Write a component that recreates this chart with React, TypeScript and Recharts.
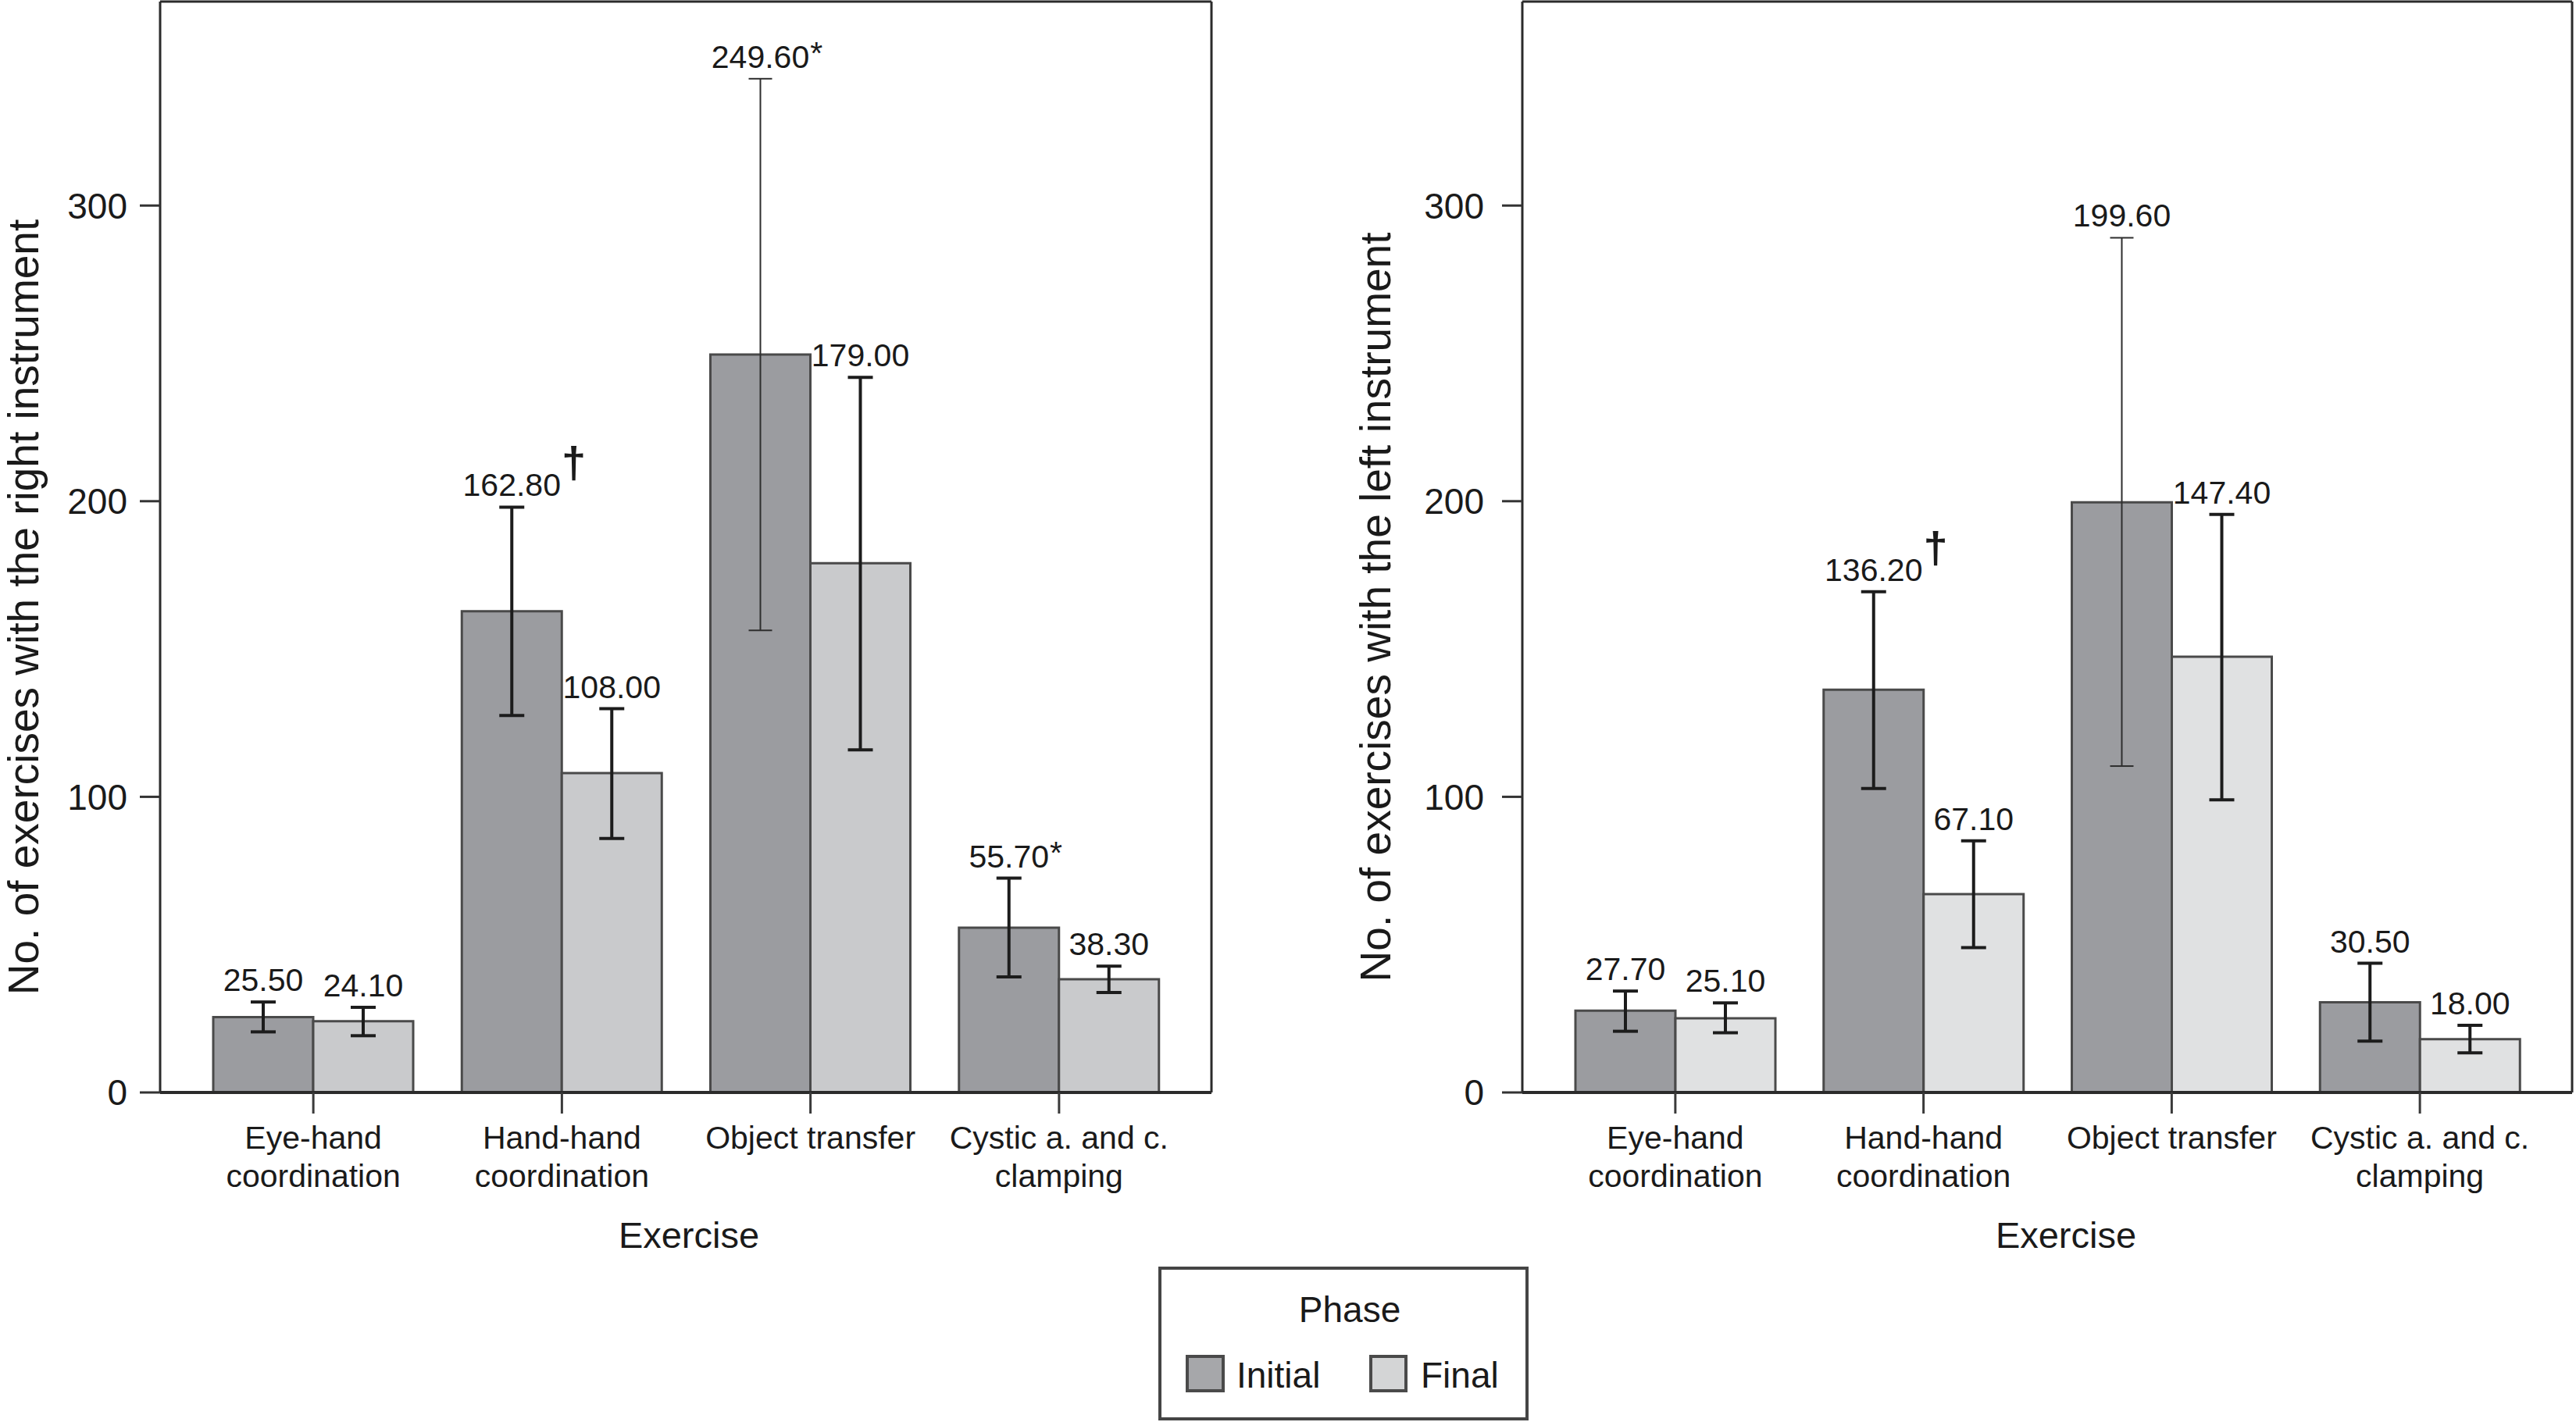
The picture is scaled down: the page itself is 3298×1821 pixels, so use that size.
import React from 'react';
import { BarChart, Bar, XAxis, YAxis, CartesianGrid, ErrorBar, LabelList } from 'recharts';

const FONT = '"Liberation Sans", Arial, Helvetica, sans-serif';
const TEXT = '#1a1a1a';

// ---------- data ----------
const categories = ['Eye-hand coordination', 'Hand-hand coordination', 'Object transfer', 'Cystic a. and c. clamping'];
const categoryTickLines = [
  ['Eye-hand', 'coordination'],
  ['Hand-hand', 'coordination'],
  ['Object transfer'],
  ['Cystic a. and c.', 'clamping'],
];
const yTicks = [0, 100, 200, 300];
const yMax = 369;
const phases = ['Initial', 'Final'];

// Panel A: right instrument
const rightInitial = [25.5, 162.8, 249.6, 55.7];
const rightFinal = [24.1, 108.0, 179.0, 38.3];
const rightInitialLow = [20.5, 127.5, 156.3, 39.1];
const rightInitialHigh = [30.6, 198.0, 342.9, 72.5];
const rightFinalLow = [19.2, 85.9, 115.9, 33.8];
const rightFinalHigh = [28.8, 129.8, 241.9, 42.7];
const rightInitialMarks = ['', '†', '*', '*'];
const rightFinalMarks = ['', '', '', ''];

// Panel B: left instrument
const leftInitial = [27.7, 136.2, 199.6, 30.5];
const leftFinal = [25.1, 67.1, 147.4, 18.0];
const leftInitialLow = [20.7, 102.8, 110.4, 17.4];
const leftInitialHigh = [34.3, 169.4, 289.1, 43.7];
const leftFinalLow = [20.2, 49.0, 99.0, 13.4];
const leftFinalHigh = [30.3, 85.1, 195.5, 22.7];
const leftInitialMarks = ['', '†', '', ''];
const leftFinalMarks = ['', '', '', ''];

// style: which initial error bars are drawn thin
const thinInitialError = [false, false, true, false];

// ---------- helpers ----------
function buildRows(ini: number[], fin: number[], iLow: number[], iHigh: number[], fLow: number[], fHigh: number[]) {
  return categories.map((name, i) => {
    const iErr = [ini[i] - iLow[i], iHigh[i] - ini[i]];
    return {
      name,
      initial: ini[i],
      final: fin[i],
      initialErrThick: thinInitialError[i] ? undefined : iErr,
      initialErrThin: thinInitialError[i] ? iErr : undefined,
      finalErr: [fin[i] - fLow[i], fHigh[i] - fin[i]],
    };
  });
}

const textWidth = (s: string) => s.split('').reduce((a, c) => a + (c === '.' ? 0.278 : 0.556), 0);

function makeValueLabel(values: number[], highs: number[], marks: string[]) {
  return (props: any) => {
    const vb = props.viewBox || {};
    const x = Number(props.x ?? vb.x);
    const y = Number(props.y ?? vb.y);
    const w = Number(props.width ?? vb.width);
    const h = Number(props.height ?? vb.height);
    const idx = typeof props.index === 'number' ? props.index : values.indexOf(Number(props.value));
    if (idx < 0 || !isFinite(x) || !isFinite(y)) return null;
    const value = values[idx];
    const base = y + h;
    const ppu = h / value;
    const errTop = base - highs[idx] * ppu;
    const by = errTop - 14;
    const cx = x + w / 2;
    const txt = value.toFixed(2);
    const tw = textWidth(txt) * 41;
    const mark = marks[idx];
    const isDagger = mark === '†';
    return (
      <g>
        <text x={cx} y={by} textAnchor="middle" fontSize={41} fontFamily={FONT} fill={TEXT}>
          {txt}
        </text>
        {mark ? (
          <text
            x={cx + tw / 2 + (isDagger ? 1 : 1)}
            y={by - (isDagger ? 24 : 5)}
            textAnchor="start"
            fontSize={isDagger ? 56 : 41}
            fontWeight={isDagger ? 'bold' : 'normal'}
            fontFamily={FONT}
            fill={TEXT}
          >
            {mark}
          </text>
        ) : null}
      </g>
    );
  };
}

const XTick = (props: any) => {
  const { x, y, payload } = props;
  const idx = categories.indexOf(payload.value);
  const lines = categoryTickLines[idx] || [String(payload.value)];
  return (
    <text x={x} y={y} textAnchor="middle" fontSize={41} fontFamily={FONT} fill={TEXT}>
      {lines.map((l, i) => (
        <tspan key={i} x={x} dy={i === 0 ? 45 : 49}>
          {l}
        </tspan>
      ))}
    </text>
  );
};

function yTitle(text: string, baselineX: number, dy: number) {
  return (props: any) => {
    const vb = props.viewBox || {};
    const cx = (vb.x || 0) + baselineX;
    const cy = (vb.y || 0) + (vb.height || 0) / 2 + dy;
    return (
      <text
        transform={`translate(${cx},${cy}) rotate(-90)`}
        textAnchor="middle"
        fontSize={55}
        fontFamily={FONT}
        fill={TEXT}
      >
        {text}
      </text>
    );
  };
}

function xTitle(text: string, dx: number) {
  return (props: any) => {
    const vb = props.viewBox || {};
    return (
      <text
        x={vb.x + vb.width / 2 + dx}
        y={vb.y + vb.height}
        textAnchor="middle"
        fontSize={47}
        fontFamily={FONT}
        fill={TEXT}
      >
        {text}
      </text>
    );
  };
}

const gridRows = (props: any) => {
  const yAxis = props && props.yAxis;
  if (!yAxis || typeof yAxis.scale !== 'function') return [];
  return yTicks.filter((t) => t > 0).map((t) => yAxis.scale(t));
};

type PanelProps = {
  left: number;
  width: number;
  yAxisWidth: number;
  tickMargin: number;
  marginRight: number;
  title: string;
  titleX: number;
  xLabelDx: number;
  finalColor: string;
  dash: string;
  ini: number[];
  fin: number[];
  iLow: number[];
  iHigh: number[];
  fLow: number[];
  fHigh: number[];
  iMarks: string[];
  fMarks: string[];
};

function Panel(p: PanelProps) {
  const rows = buildRows(p.ini, p.fin, p.iLow, p.iHigh, p.fLow, p.fHigh);
  const H = 1620;
  return (
    <div style={{ position: 'absolute', left: p.left, top: 0, width: p.width, height: H }}>
      <BarChart
        width={p.width}
        height={H}
        data={rows}
        margin={{ top: 1, right: p.marginRight - 1, left: 0, bottom: H - 1598 }}
        barGap={0}
        barSize={128}
      >
        <CartesianGrid
          vertical={false}
          horizontal
          stroke="#3a3a3a"
          strokeWidth={3}
          strokeDasharray={p.dash}
          horizontalCoordinatesGenerator={gridRows}
        />
        <XAxis
          dataKey="name"
          type="category"
          interval={0}
          padding={{ left: 37, right: 36 }}
          height={199}
          tickSize={27}
          tickMargin={0}
          tick={<XTick />}
          axisLine={{ stroke: '#2b2b2b', strokeWidth: 4 }}
          tickLine={{ stroke: '#3a3a3a', strokeWidth: 3 }}
          label={xTitle('Exercise', p.xLabelDx)}
        />
        <XAxis
          xAxisId="top"
          dataKey="name"
          orientation="top"
          height={1}
          tick={false}
          tickLine={false}
          axisLine={{ stroke: '#2b2b2b', strokeWidth: 3 }}
        />
        <YAxis
          type="number"
          domain={[0, yMax]}
          ticks={yTicks}
          width={p.yAxisWidth}
          tickSize={26}
          tickMargin={p.tickMargin}
          tick={{ fontSize: 46, fill: TEXT, fontFamily: FONT }}
          axisLine={{ stroke: '#2b2b2b', strokeWidth: 3 }}
          tickLine={{ stroke: '#333', strokeWidth: 3 }}
          label={yTitle(p.title, p.titleX, 77)}
        />
        <YAxis
          yAxisId="right"
          orientation="right"
          type="number"
          domain={[0, yMax]}
          width={1}
          tick={false}
          tickLine={false}
          axisLine={{ stroke: '#2b2b2b', strokeWidth: 3 }}
        />
        <Bar dataKey="initial" name={phases[0]} fill="#9b9ca0" stroke="#4a4a4a" strokeWidth={3} isAnimationActive={false}>
          <ErrorBar dataKey="initialErrThick" width={16} stroke="#1c1c1c" strokeWidth={4} />
          <ErrorBar dataKey="initialErrThin" width={15} stroke="#2e2e2e" strokeWidth={2} />
          <LabelList dataKey="initial" content={makeValueLabel(p.ini, p.iHigh, p.iMarks)} />
        </Bar>
        <Bar dataKey="final" name={phases[1]} fill={p.finalColor} stroke="#4a4a4a" strokeWidth={3} isAnimationActive={false}>
          <ErrorBar dataKey="finalErr" width={16} stroke="#1c1c1c" strokeWidth={4} />
          <LabelList dataKey="final" content={makeValueLabel(p.fin, p.fHigh, p.fMarks)} />
        </Bar>
      </BarChart>
    </div>
  );
}

function PhaseLegend() {
  const ox = 1470;
  const oy = 1610;
  return (
    <svg
      width={500}
      height={211}
      style={{ position: 'absolute', left: ox, top: oy }}
    >
      <rect x={1485 - ox} y={1624 - oy} width={470} height={193} fill="#fff" stroke="#454545" strokeWidth={4} />
      <text x={1728 - ox} y={1693 - oy} textAnchor="middle" fontSize={46} fontFamily={FONT} fill={TEXT}>
        Phase
      </text>
      <rect x={1520 - ox} y={1737 - oy} width={46} height={44} fill="#a6a7aa" stroke="#4a4a4a" strokeWidth={4} />
      <text x={1583 - ox} y={1777 - oy} fontSize={46} fontFamily={FONT} fill={TEXT}>
        {phases[0]}
      </text>
      <rect x={1755 - ox} y={1737 - oy} width={45} height={44} fill="#d4d5d6" stroke="#4a4a4a" strokeWidth={4} />
      <text x={1819 - ox} y={1777 - oy} fontSize={46} fontFamily={FONT} fill={TEXT}>
        {phases[1]}
      </text>
    </svg>
  );
}

export default function App() {
  return (
    <div style={{ position: 'absolute', left: 0, top: 0, width: 3298, height: 1821, background: '#fff', overflow: 'hidden' }}>
      <Panel
        left={0}
        width={1560}
        yAxisWidth={205}
        tickMargin={16}
        marginRight={9}
        title="No. of exercises with the right instrument"
        titleX={49}
        xLabelDx={4}
        finalColor="#c9cacc"
        dash="20 17"
        ini={rightInitial}
        fin={rightFinal}
        iLow={rightInitialLow}
        iHigh={rightInitialHigh}
        fLow={rightFinalLow}
        fHigh={rightFinalHigh}
        iMarks={rightInitialMarks}
        fMarks={rightFinalMarks}
      />
      <Panel
        left={1700}
        width={1598}
        yAxisWidth={249}
        tickMargin={23}
        marginRight={5}
        title="No. of exercises with the left instrument"
        titleX={80}
        xLabelDx={24}
        finalColor="#e0e1e2"
        dash="13 16"
        ini={leftInitial}
        fin={leftFinal}
        iLow={leftInitialLow}
        iHigh={leftInitialHigh}
        fLow={leftFinalLow}
        fHigh={leftFinalHigh}
        iMarks={leftInitialMarks}
        fMarks={leftFinalMarks}
      />
      <PhaseLegend />
    </div>
  );
}
